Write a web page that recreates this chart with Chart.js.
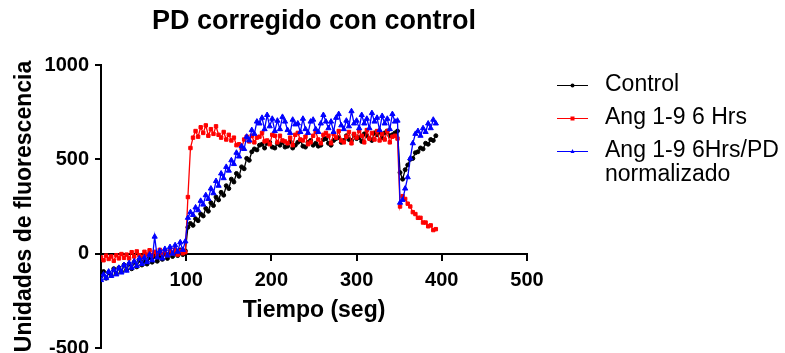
<!DOCTYPE html>
<html><head><meta charset="utf-8">
<script src="https://cdn.jsdelivr.net/npm/chart.js@4.4.0/dist/chart.umd.min.js"></script>
<style>html,body{margin:0;padding:0;background:#fff;}canvas{display:block;}</style>
</head><body>
<canvas id="c" width="785" height="353"></canvas>
<script>
const chartTitle = 'PD corregido con control';
const xTitle = 'Tiempo (seg)';
const yTitle = 'Unidades de fluorescencia';
const seriesNames = [['Control'], ['Ang 1-9 6 Hrs'], ['Ang 1-9 6Hrs/PD', 'normalizado']];
const xTickValues = [0, 100, 200, 300, 400, 500];
const yTickValues = [-500, 0, 500, 1000];

const times = [
  0,3,6,9,12,15,18,21,24,27,
  30,33,36,39,42,45,48,51,54,57,
  60,63,66,69,72,75,78,81,84,87,
  90,93,96,99,102,105,108,111,114,117,
  120,123,126,129,132,135,138,141,144,147,
  150,153,156,159,162,165,168,171,174,177,
  180,183,186,189,192,195,198,201,204,207,
  210,213,216,219,222,225,228,231,234,237,
  240,243,246,249,252,255,258,261,264,267,
  270,273,276,279,282,285,288,291,294,297,
  300,303,306,309,312,315,318,321,324,327,
  330,333,336,339,342,345,348,351,354,357,
  360,363,366,369,372,375,378,381,384,387,
  390,393
];

const control = [
  -120,-95,-130,-100,-115,-80,-105,-75,-95,-60,
  -85,-55,-80,-45,-70,-35,-60,-40,-55,-20,
  -45,-15,-40,-10,-30,0,-25,5,-15,15,
  -10,20,-5,15,140,160,150,185,175,210,
  200,240,225,270,255,300,285,325,310,360,
  345,395,380,425,410,460,450,505,495,540,
  555,550,575,580,560,585,590,565,560,585,
  575,590,565,570,595,560,575,590,600,570,
  565,590,600,575,585,570,575,605,610,585,
  575,600,610,615,590,600,625,605,600,630,
  610,615,595,635,625,610,600,640,630,645,
  615,640,650,625,630,640,650,430,395,445,
  470,500,505,535,540,560,555,585,580,605,
  600,625
];

const ang6h = [
  -20,-35,-10,-28,-15,-38,-8,-25,-2,-22,
  -5,-25,8,-15,12,-8,-20,10,-5,18,
  -10,10,-5,20,-3,15,-8,18,2,22,
  -5,15,2,8,300,560,615,650,620,670,
  640,680,625,660,635,675,630,615,645,605,
  630,600,615,575,580,560,605,620,595,625,
  590,615,620,640,595,600,580,630,625,590,
  625,600,595,585,615,575,630,640,605,600,
  620,580,590,625,645,605,585,630,640,625,
  585,635,615,650,600,590,620,645,585,635,
  615,650,625,590,655,610,640,605,650,600,
  635,605,650,590,620,625,610,250,305,290,
  265,250,220,210,190,190,165,165,145,150,
  125,130
];

const ang6hPD = [
  -140,-110,-130,-95,-118,-85,-110,-75,-100,-60,
  -90,-50,-75,-40,-65,-25,-55,-20,-45,-5,
  -35,90,-20,15,-25,25,-10,35,0,45,
  10,60,20,65,190,220,205,245,230,280,
  260,310,290,345,320,385,360,425,400,460,
  440,495,475,535,515,570,555,620,600,655,
  635,700,690,720,660,735,675,715,650,705,
  660,725,700,655,640,710,685,690,645,715,
  660,640,700,710,660,645,690,735,700,665,
  700,645,720,740,680,660,705,675,755,690,
  705,665,735,690,715,665,745,700,720,655,
  730,690,715,660,740,700,705,270,285,345,
  405,505,585,635,650,625,665,645,690,665,
  710,690
];

const FONT = "'Liberation Sans', Arial, sans-serif";
const colors = ['#000000', '#ff0000', '#0000ff'];
const styles = [
  { pointStyle: 'circle', radius: 2 },
  { pointStyle: 'rect', radius: 2.4 },
  { pointStyle: 'triangle', radius: 3 }
];
const seriesValues = [control, ang6h, ang6hPD];

const datasets = seriesValues.map((vals, i) => ({
  label: seriesNames[i].join(' '),
  data: times.map((t, k) => ({ x: t, y: vals[k] })),
  borderColor: colors[i],
  backgroundColor: colors[i],
  borderWidth: 1.3,
  pointStyle: styles[i].pointStyle,
  pointRadius: styles[i].radius,
  pointBorderWidth: 1,
  tension: 0,
  order: 3 - i
}));

function drawMarker(ctx, style, r, x, y, color) {
  ctx.fillStyle = color;
  ctx.beginPath();
  if (style === 'circle') {
    ctx.arc(x, y, r, 0, Math.PI * 2);
  } else if (style === 'rect') {
    ctx.rect(x - r, y - r, 2 * r, 2 * r);
  } else {
    ctx.moveTo(x, y - r * 1.2);
    ctx.lineTo(x + r, y + r * 0.7);
    ctx.lineTo(x - r, y + r * 0.7);
    ctx.closePath();
  }
  ctx.fill();
}

const legendPlugin = {
  id: 'sideLegend',
  afterDraw(chart) {
    const ctx = chart.ctx;
    ctx.save();
    const rowY = [85, 118, 151];
    const lineGap = 24;
    ctx.font = '23px ' + FONT;
    ctx.textBaseline = 'middle';
    ctx.textAlign = 'left';
    seriesNames.forEach((lines, i) => {
      const y = rowY[i];
      ctx.strokeStyle = colors[i];
      ctx.lineWidth = 1;
      ctx.beginPath();
      ctx.moveTo(557, y + 0.5);
      ctx.lineTo(588, y + 0.5);
      ctx.stroke();
      drawMarker(ctx, styles[i].pointStyle, 2, 572.5, y + 0.5, colors[i]);
      ctx.fillStyle = '#000';
      lines.forEach((txt, j) => ctx.fillText(txt, 605, y + j * lineGap));
    });
    ctx.restore();
  }
};

new Chart(document.getElementById('c'), {
  type: 'line',
  data: { datasets },
  plugins: [legendPlugin],
  options: {
    responsive: false,
    animation: false,
    events: [],
    layout: { padding: { left: 0, right: 258, top: 0, bottom: 5 } },
    plugins: {
      legend: { display: false },
      tooltip: { enabled: false },
      title: {
        display: true,
        text: chartTitle,
        fullSize: false,
        color: '#000',
        font: { family: FONT, size: 27, weight: 'bold' },
        padding: { top: 5, bottom: 27.6 }
      }
    },
    scales: {
      x: {
        type: 'linear',
        position: { y: 0 },
        min: 0, max: 500,
        afterBuildTicks: s => { s.ticks = xTickValues.map(v => ({ value: v })); },
        ticks: {
          color: '#000',
          font: { family: FONT, size: 20, weight: 'bold' },
          padding: 9,
          maxRotation: 0,
          callback: v => (v === 0 ? '' : String(v))
        },
        grid: { drawOnChartArea: false, drawTicks: true, tickLength: 6, color: '#000', lineWidth: 2 },
        border: { display: true, color: '#000', width: 2 },
        title: {
          display: true, text: xTitle, color: '#000',
          font: { family: FONT, size: 23, weight: 'bold' },
          padding: { top: -5, bottom: 0 }
        }
      },
      y: {
        type: 'linear',
        position: 'left',
        min: -500, max: 1000,
        afterBuildTicks: s => { s.ticks = yTickValues.map(v => ({ value: v })); },
        afterFit: s => { s.width = 101; s.paddingTop = 0; s.paddingBottom = 0; },
        ticks: {
          color: '#000',
          font: { family: FONT, size: 20, weight: 'bold' },
          padding: 6,
          callback: v => String(v)
        },
        grid: { drawOnChartArea: false, drawTicks: true, tickLength: 6, color: '#000', lineWidth: 2 },
        border: { display: true, color: '#000', width: 2 },
        title: {
          display: true, text: yTitle, color: '#000',
          font: { family: FONT, size: 23, weight: 'bold' },
          padding: { top: 11, bottom: 0 }
        }
      }
    }
  }
});
</script>
</body></html>
